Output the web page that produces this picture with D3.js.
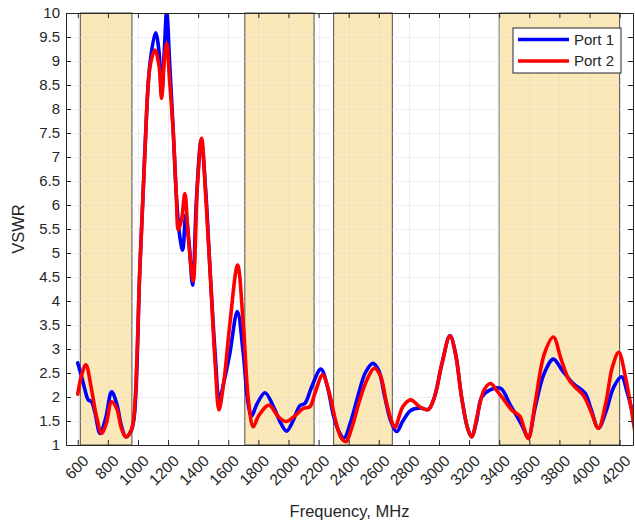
<!DOCTYPE html>
<html>
<head>
<meta charset="utf-8">
<script src="https://cdn.jsdelivr.net/npm/d3@7"></script>
<style>
  html, body { margin: 0; padding: 0; background: #fff; }
  svg { display: block; }
  text { font-family: "Liberation Sans", Arial, Helvetica, sans-serif; fill: #262626; }
</style>
</head>
<body>
<svg id="chart" width="635" height="527"></svg>
<script>
// Measured VSWR of both ports versus frequency (MHz)
const port1Freq = [600, 626, 648, 670, 692, 715, 748, 785, 825, 860, 890, 920, 955, 975, 1013, 1047, 1080, 1117, 1140, 1157, 1175, 1191, 1210, 1235, 1257, 1280, 1297, 1318, 1340, 1363, 1390, 1420, 1450, 1478, 1515, 1540, 1570, 1610, 1660, 1700, 1730, 1755, 1790, 1844, 1900, 1950, 1988, 2030, 2076, 2110, 2154, 2215, 2260, 2300, 2340, 2369, 2410, 2460, 2510, 2560, 2600, 2640, 2680, 2719, 2760, 2812, 2874, 2929, 2970, 3020, 3073, 3110, 3150, 3190, 3217, 3250, 3284, 3340, 3410, 3472, 3527, 3560, 3593, 3640, 3700, 3760, 3820, 3892, 3970, 4010, 4059, 4110, 4160, 4213, 4250, 4300];
const port1Vswr = [2.71, 2.42, 2.15, 1.94, 1.90, 1.67, 1.24, 1.55, 2.11, 1.85, 1.40, 1.17, 1.30, 1.58, 4.70, 7.20, 8.95, 9.59, 9.20, 8.30, 9.20, 10.05, 9.00, 7.50, 6.10, 5.30, 5.06, 5.80, 5.20, 4.33, 6.20, 7.35, 6.30, 4.70, 2.80, 1.94, 2.30, 2.90, 3.78, 2.90, 1.90, 1.60, 1.85, 2.09, 1.80, 1.45, 1.29, 1.50, 1.82, 1.87, 2.21, 2.58, 2.20, 1.60, 1.25, 1.14, 1.45, 2.00, 2.50, 2.70, 2.55, 2.00, 1.50, 1.28, 1.50, 1.72, 1.77, 1.74, 2.00, 2.70, 3.28, 2.90, 2.00, 1.35, 1.17, 1.50, 2.00, 2.15, 2.18, 1.84, 1.55, 1.35, 1.15, 1.80, 2.50, 2.79, 2.55, 2.28, 2.08, 1.75, 1.35, 1.70, 2.20, 2.42, 2.10, 1.50];

const port2Freq = [600, 625, 654, 692, 725, 759, 790, 825, 860, 890, 920, 955, 973, 1013, 1047, 1080, 1113, 1140, 1157, 1175, 1191, 1210, 1235, 1255, 1268, 1290, 1312, 1335, 1367, 1395, 1423, 1450, 1478, 1515, 1538, 1570, 1610, 1662, 1700, 1735, 1766, 1800, 1870, 1930, 1983, 2040, 2098, 2143, 2176, 2227, 2270, 2310, 2350, 2382, 2420, 2470, 2520, 2570, 2610, 2650, 2685, 2708, 2760, 2812, 2874, 2929, 2970, 3020, 3073, 3110, 3150, 3190, 3217, 3260, 3300, 3343, 3380, 3430, 3483, 3538, 3565, 3593, 3640, 3700, 3760, 3810, 3860, 3900, 3960, 4010, 4059, 4110, 4150, 4194, 4240, 4300];
const port2Vswr = [2.06, 2.45, 2.67, 2.15, 1.59, 1.24, 1.45, 1.90, 1.75, 1.35, 1.17, 1.30, 1.58, 4.70, 7.15, 8.88, 9.23, 8.90, 8.22, 9.00, 9.37, 8.60, 7.50, 6.20, 5.48, 5.70, 6.24, 5.30, 4.42, 6.40, 7.39, 6.20, 4.70, 2.60, 1.73, 2.30, 3.50, 4.75, 3.50, 1.90, 1.38, 1.60, 1.83, 1.60, 1.49, 1.60, 1.76, 1.80, 2.08, 2.46, 2.10, 1.55, 1.15, 1.07, 1.35, 1.90, 2.35, 2.60, 2.45, 1.90, 1.50, 1.37, 1.80, 1.94, 1.79, 1.74, 2.00, 2.70, 3.27, 2.90, 2.00, 1.35, 1.17, 1.70, 2.15, 2.28, 2.15, 1.95, 1.73, 1.60, 1.35, 1.13, 1.90, 2.90, 3.25, 2.80, 2.38, 2.22, 2.03, 1.70, 1.35, 1.90, 2.60, 2.93, 2.40, 1.30];

// Operating bands (MHz) highlighted behind the curves
const bandStart = [617, 1710, 2300, 3400];
const bandEnd   = [960, 2170, 2690, 4200];

const xTicks = d3.range(600, 4201, 200);
const yTicks = d3.range(1, 10.01, 0.5);

const seriesNames  = ["Port 1", "Port 2"];
const seriesColors = ["#0000ff", "#ff0000"];

const margin = { left: 66, right: 2, top: 13, bottom: 82 };
const W = 635, H = 527;
const plotW = W - margin.left - margin.right;
const plotH = H - margin.top - margin.bottom;

const svg = d3.select("#chart");
const g = svg.append("g").attr("transform", `translate(${margin.left},${margin.top})`);

const x = d3.scaleLinear().domain([522, 4289]).range([0, plotW]);
const y = d3.scaleLinear().domain([1, 10]).range([plotH, 0]);

g.append("defs").append("clipPath").attr("id", "plotClip")
  .append("rect").attr("width", plotW).attr("height", plotH);

// Shaded bands
g.append("g").selectAll("rect")
  .data(bandStart.map((s, i) => [s, bandEnd[i]]))
  .join("rect")
  .attr("x", d => x(d[0]))
  .attr("y", 0)
  .attr("width", d => x(d[1]) - x(d[0]))
  .attr("height", plotH)
  .attr("fill", "#fbe8b8")
  .attr("stroke", "#4d4d4d")
  .attr("stroke-width", 1);

// Grid
const grid = g.append("g").attr("stroke", "#d9d9d9").attr("stroke-opacity", 0.45).attr("stroke-width", 1);
grid.selectAll(".gx").data(xTicks).join("line")
  .attr("x1", d => Math.round(x(d)) + 0.5).attr("x2", d => Math.round(x(d)) + 0.5)
  .attr("y1", 0).attr("y2", plotH);
grid.selectAll(".gy").data(yTicks.slice(1, -1)).join("line")
  .attr("y1", d => Math.round(y(d)) + 0.5).attr("y2", d => Math.round(y(d)) + 0.5)
  .attr("x1", 0).attr("x2", plotW);

// Curves
const line = d3.line().x(d => x(d[0])).y(d => y(d[1])).curve(d3.curveCatmullRom.alpha(0.5));
const series = [
  port1Freq.map((f, i) => [f, port1Vswr[i]]),
  port2Freq.map((f, i) => [f, port2Vswr[i]])
];
g.append("g").attr("clip-path", "url(#plotClip)")
  .selectAll("path").data(series).join("path")
  .attr("d", line)
  .attr("fill", "none")
  .attr("stroke", (d, i) => seriesColors[i])
  .attr("stroke-width", 3.6)
  .attr("stroke-linejoin", "round")
  .attr("stroke-linecap", "round");

// Axes (box with inward ticks)
const axisColor = "#262626";
const xb = g.append("g").attr("transform", `translate(0,${plotH})`)
  .call(d3.axisBottom(x).tickValues(xTicks).tickSizeInner(-5).tickSizeOuter(0).tickFormat(""));
const xt = g.append("g")
  .call(d3.axisTop(x).tickValues(xTicks).tickSizeInner(-5).tickSizeOuter(0).tickFormat(""));
const yl = g.append("g")
  .call(d3.axisLeft(y).tickValues(yTicks).tickSizeInner(-5).tickSizeOuter(0).tickFormat(""));
const yr = g.append("g").attr("transform", `translate(${plotW},0)`)
  .call(d3.axisRight(y).tickValues(yTicks).tickSizeInner(-5).tickSizeOuter(0).tickFormat(""));
[xb, xt, yl, yr].forEach(a => {
  a.selectAll("path, line").attr("stroke", axisColor).attr("stroke-width", 1);
});

// Y tick labels
g.append("g").selectAll("text").data(yTicks).join("text")
  .attr("x", -6)
  .attr("y", d => y(d))
  .attr("dy", "0.36em")
  .attr("text-anchor", "end")
  .attr("font-size", 15)
  .text(d => d3.format("~g")(d));

// X tick labels, rotated
g.append("g").selectAll("text").data(xTicks).join("text")
  .attr("transform", d => `translate(${x(d) + 8},${plotH + 13}) rotate(-45)`)
  .attr("dy", "0.36em")
  .attr("text-anchor", "end")
  .attr("font-size", 15.5)
  .text(d => d);

// Axis titles
svg.append("text")
  .attr("x", margin.left + plotW / 2)
  .attr("y", 517)
  .attr("text-anchor", "middle")
  .attr("font-size", 16.5)
  .text("Frequency, MHz");
svg.append("text")
  .attr("transform", `translate(24,${margin.top + plotH / 2}) rotate(-90)`)
  .attr("text-anchor", "middle")
  .attr("font-size", 16.5)
  .text("VSWR");

// Legend
const lg = svg.append("g").attr("transform", "translate(513,28)");
lg.append("rect").attr("width", 108).attr("height", 45)
  .attr("fill", "#fff").attr("stroke", "#262626").attr("stroke-width", 1);
seriesNames.forEach((name, i) => {
  const yy = 11.5 + i * 21.5;
  lg.append("line").attr("x1", 5).attr("x2", 56).attr("y1", yy).attr("y2", yy)
    .attr("stroke", seriesColors[i]).attr("stroke-width", 3.6);
  lg.append("text").attr("x", 61).attr("y", yy).attr("dy", "0.36em")
    .attr("font-size", 15).text(name);
});
</script>
</body>
</html>
